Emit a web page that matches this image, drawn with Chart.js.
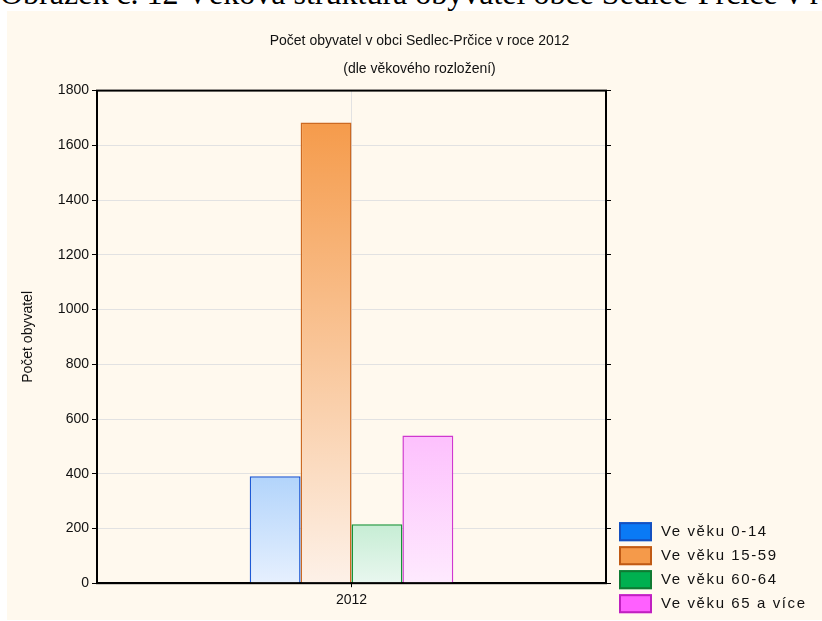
<!DOCTYPE html>
<html>
<head>
<meta charset="utf-8">
<script src="https://cdn.jsdelivr.net/npm/chart.js@4.4.0/dist/chart.umd.min.js"></script>
<style>
  html, body { margin: 0; padding: 0; background: #fff; overflow: hidden; }
  #caption {
    position: absolute; left: 0; top: -23px; white-space: nowrap; line-height: 32px;
    font-family: 'Liberation Serif', 'Times New Roman', serif; font-size: 32px; color: #000;
  }
  #box {
    position: absolute; left: 7px; top: 11px; width: 815px; height: 609px;
    background: #fff9ee;
  }
</style>
</head>
<body>
<div id="caption">Obrázek č. 12 Věková struktura obyvatel obce Sedlec-Prčice v roce 2012</div>
<div id="box"><canvas id="ageChart"></canvas></div>
<script>
// data
var years = ['2012'];
var seriesNames = ['Ve věku 0-14', 'Ve věku 15-59', 'Ve věku 60-64', 'Ve věku 65 a více'];
var values0_14 = [391];
var values15_59 = [1683];
var values60_64 = [215];
var values65 = [540];
var yTicks = [0, 200, 400, 600, 800, 1000, 1200, 1400, 1600, 1800];

// top colour, bottom colour, border, legend fill, legend border
var styles = [
    ['#b2d4fb', '#e6f0fe', '#1d5ad6', '#0a7af5', '#1450c0'],
    ['#f59b4b', '#fdf1e8', '#cc6a22', '#f59a4a', '#c05a14'],
    ['#c6edd4', '#e9f7ef', '#16963a', '#00b050', '#107a32'],
    ['#fdc0fd', '#feeafe', '#d038d0', '#ff60ff', '#c020c0']
];

function barGradient(i) {
    return function (ctx) {
        var chart = ctx.chart;
        var area = chart.chartArea;
        if (!area || ctx.parsed === undefined) return styles[i][0];
        var y = chart.scales.y;
        var top = y.getPixelForValue(ctx.parsed.y);
        var bottom = y.getPixelForValue(0);
        var g = chart.ctx.createLinearGradient(0, top, 0, bottom);
        g.addColorStop(0, styles[i][0]);
        g.addColorStop(1, styles[i][1]);
        return g;
    };
}

var allValues = [values0_14, values15_59, values60_64, values65];
var datasets = allValues.map(function (vals, i) {
    return {
        label: seriesNames[i],
        data: vals,
        backgroundColor: barGradient(i),
        borderColor: styles[i][2],
        borderWidth: 1.5,
        barPercentage: 1,
        categoryPercentage: 0.4
    };
});

// black frame round the plot
var framePlugin = {
    id: 'frame',
    afterDraw: function (chart) {
        var a = chart.chartArea, c = chart.ctx;
        c.save();
        c.strokeStyle = '#000';
        c.lineWidth = 2;
        c.strokeRect(a.left, a.top, a.right - a.left, a.bottom - a.top);
        c.restore();
    }
};

// legend at lower right, outside the plot
var sideLegend = {
    id: 'sideLegend',
    afterDraw: function (chart) {
        var a = chart.chartArea, c = chart.ctx;
        var x = a.right + 13;
        var y = a.bottom - 61;
        c.save();
        c.font = "15px 'Liberation Sans', Arial, sans-serif";
        c.letterSpacing = '1.6px';
        c.textBaseline = 'middle';
        seriesNames.forEach(function (name, i) {
            var top = y + i * 24;
            c.fillStyle = styles[i][3];
            c.fillRect(x, top, 33, 19);
            c.strokeStyle = styles[i][4];
            c.lineWidth = 2;
            c.strokeRect(x + 1, top + 1, 31, 17);
            c.fillStyle = '#111';
            c.fillText(name, x + 42, top + 10);
        });
        c.restore();
    }
};

Chart.defaults.font.family = "'Liberation Sans', Arial, sans-serif";
Chart.defaults.color = '#111';

var ctx = document.getElementById('ageChart').getContext('2d');
new Chart(ctx, {
    type: 'bar',
    data: { labels: years, datasets: datasets },
    plugins: [framePlugin, sideLegend],
    options: {
        responsive: true,
        maintainAspectRatio: false,
        animation: false,
        layout: { padding: { left: 13, right: 3, top: 10, bottom: 6 } },
        scales: {
            x: {
                grid: { offset: false, color: '#e2e2e2', tickColor: '#000', tickLength: 4 },
                border: { color: '#000', width: 2 },
                ticks: { color: '#111', font: { size: 14 }, padding: 5 }
            },
            y: {
                min: 0,
                max: 1800,
                afterBuildTicks: function (axis) {
                    axis.ticks = yTicks.map(function (v) { return { value: v }; });
                },
                afterFit: function (axis) { axis.width = 77; },
                grid: { color: '#e2e2e2', tickColor: '#000', tickLength: 5 },
                border: { color: '#000', width: 2 },
                ticks: {
                    color: '#111', font: { size: 14 }, padding: 3,
                    callback: function (v) { return String(v); }
                },
                title: { display: true, text: 'Počet obyvatel', color: '#111', font: { size: 14 }, padding: { top: 0, bottom: 12 } }
            },
            y2: {
                position: 'right',
                min: 0,
                max: 1800,
                afterBuildTicks: function (axis) {
                    axis.ticks = yTicks.map(function (v) { return { value: v }; });
                },
                afterFit: function (axis) { axis.width = 213; },
                grid: { drawOnChartArea: false, tickColor: '#000', tickLength: 5 },
                border: { display: false },
                ticks: { display: false }
            }
        },
        plugins: {
            title: {
                display: true,
                text: 'Počet obyvatel v obci Sedlec-Prčice v roce 2012',
                color: '#111',
                font: { size: 14, weight: 'normal' },
                padding: { top: 12, bottom: 11 }
            },
            subtitle: {
                display: true,
                text: '(dle věkového rozložení)',
                color: '#111',
                font: { size: 14 },
                padding: { top: 0, bottom: 13 }
            },
            legend: { display: false },
            tooltip: { enabled: false }
        }
    }
});
</script>
</body>
</html>
